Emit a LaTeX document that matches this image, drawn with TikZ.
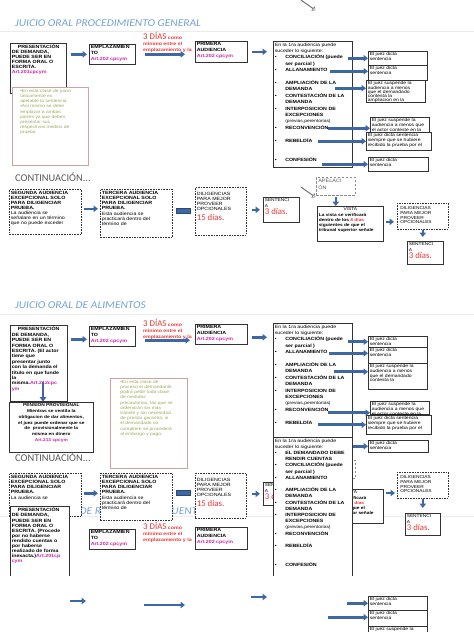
\documentclass[tikz,border=0pt]{standalone}
\usepackage{fontspec}
\setmainfont{Liberation Sans}[FakeStretch=1.15]
\newfontfamily\slidefont{Carlito}
\newfontfamily\titlefont{Carlito}[FakeStretch=1.1]
\usetikzlibrary{arrows.meta}
\usetikzlibrary{shapes.arrows}

\definecolor{titleblue}{RGB}{115,160,212}
\definecolor{arrowblue}{RGB}{62,104,164}
\definecolor{artmag}{RGB}{204,36,168}
\definecolor{diasred}{RGB}{234,54,54}
\definecolor{noteolive}{RGB}{158,168,96}
\definecolor{noterose}{RGB}{204,164,164}
\definecolor{contgray}{RGB}{88,88,88}

\newcommand{\tb}[3]{\parbox[t][#2][t]{#1}{\raggedright #3}}
\newcommand{\bul}{\makebox[10.5pt][l]{\textbullet}\bfseries}
\newcommand{\ind}{\hspace*{10.5pt}}
\newcommand{\art}[1]{{\color{artmag}#1}}
\newcommand{\dias}[1]{{\slidefont\mdseries\fontsize{8.8}{9}\selectfont\color{diasred}#1}}

\tikzset{
  box/.style={draw=black!80, line width=0.6pt, fill=white, anchor=north west,
    inner sep=1.5pt, font=\fontsize{4.6}{5.2}\selectfont\bfseries},
  headbox/.style={box, font=\fontsize{4.6}{5.8}\selectfont\bfseries},
  dbox/.style={box, dash pattern=on 1.6pt off 1pt},
  resbox/.style={box, line width=0.5pt, font=\fontsize{4.4}{4.6}\selectfont},
  listbox/.style={box, font=\fontsize{4.6}{6.4}\selectfont},
  sentbox/.style={box, font=\fontsize{4.2}{5.6}\selectfont},
  dilbox/.style={dbox, font=\fontsize{4.6}{5.3}\selectfont, inner ysep=4.5pt},
  smalldil/.style={dbox, font=\fontsize{4.2}{4.9}\selectfont, inner sep=3pt},
  apelbox/.style={box, draw=black!45, dash pattern=on 2.5pt off 1.5pt, text=black!65,
    inner sep=2pt, font=\fontsize{4.8}{6.5}\selectfont},
  note/.style={draw=noterose, line width=0.5pt, fill=white, anchor=north west,
    inner xsep=8pt, inner ysep=2pt, text=noteolive, font=\fontsize{4.3}{5.2}\selectfont},
  slidetitle/.style={anchor=west, inner sep=0pt, text=titleblue,
    font=\titlefont\itshape\fontsize{10.4}{11}\selectfont},
  cont/.style={anchor=west, inner sep=0pt, text=contgray,
    font=\slidefont\fontsize{10.4}{11}\selectfont},
  diastext/.style={anchor=north west, inner sep=0pt, align=left, text=diasred,
    font=\fontsize{4.6}{6}\selectfont\bfseries},
  barrow/.style={draw=arrowblue, line width=2.6pt, -{Triangle[length=4.5pt,width=6.5pt]}},
  bar/.style={draw=arrowblue!70!black, fill=arrowblue, line width=0.4pt, anchor=west,
    minimum width=14pt, minimum height=5pt, inner sep=0pt},
  hollow/.style={single arrow, draw=black!55, fill=white, line width=0.5pt, inner sep=0pt,
    minimum height=17pt, minimum width=4pt, single arrow head extend=2pt},
  sliderule/.style={draw=black!8, line width=0.6pt},
  sides/.style={draw=black!80, line width=0.6pt}
}

\begin{document}
\begin{tikzpicture}[x=1pt, y=-1pt]
\useasboundingbox (0,0) rectangle (474,632);

% Slide rules
\draw[sliderule] (0,31) -- (474,31);
\draw[sliderule] (0,314) -- (474,314);
\draw[sliderule] (0,516) -- (474,516);

% ---------------- Procedimiento general ----------------
\node[slidetitle] (title1) at (15,23) {JUICIO ORAL PROCEDIMIENTO GENERAL};
\node[hollow, rotate=-35] (hol1) at (308,5) {};

\node[box, font=\fontsize{4.6}{4.9}\selectfont\bfseries] (pres1) at (10,43)
  {\tb{53pt}{47pt}{\hspace*{6pt}PRESENTACIÓN\\ DE DEMANDA,\\ PUEDE SER EN\\
   FORMA ORAL O\\ ESCRITA.\\ \art{Art.201cpcym}}}; %
\node[note] (note1) at (12,87)
  {\tb{60pt}{74pt}{\textbullet En esta clase de juicio\\ únicamente es\\ apelable la sentencia\\
   \textbullet Así mismo se debe\\ emplazar a ambas\\ partes ya que deben\\ presentar sus\\
   respectivos medios de\\ prueba}}; %
\node[headbox] (emp1) at (89,44) {\tb{43pt}{17pt}{EMPLAZAMIEN\\ TO\\ \art{Art.202 cpcym}}}; %
\node[diastext] (dias1) at (143,31.5) {\dias{3 DÍAS} como\\ mínimo entre el\\ emplazamiento y la}; %
\node[headbox] (pa1) at (195,41) {\tb{49pt}{18pt}{PRIMERA\\ AUDIENCIA\\ \art{Art.202 cpcym}}}; %

\node[listbox] (big1) at (273,41)
  {\tb{76pt}{123pt}{En la 1ra audiencia puede\\ suceder lo siguiente:\\
   \bul CONCILIACIÓN (puede\\ \ind ser parcial )\\ \bul ALLANAMIENTO\\[6.4pt]
   \bul AMPLIACIÓN DE LA\\ \ind DEMANDA\\ \bul CONTESTACIÓN DE LA\\ \ind DEMANDA\\
   \bul INTERPOSICION DE\\ \ind EXCEPCIONES\\ \ind{\mdseries\fontsize{4.3}{6.4}\selectfont(previas,perentorias)}\\
   \bul RECONVENCIÓN\\[6.4pt] \bul REBELDÍA\\[12.8pt] \bul CONFESIÓN}}; %

\draw[barrow, shorten <=4pt, shorten >=2pt] (pres1.east |- emp1.west) -- (emp1.west);
\draw[barrow, shorten <=9pt, shorten >=10pt] (emp1.east) -- (emp1.east -| pa1.west);
\draw[barrow, shorten <=4pt, shorten >=6pt] (pa1.east) -- (pa1.east -| big1.west);

% Results of the first hearing
\node[resbox] (r1a) at (368,51) {\tb{56pt}{11pt}{El juez dicta\\ sentencia}}; %
\node[resbox] (r1b) at (368,65) {\tb{56pt}{12pt}{El juez dicta\\ sentencia}}; %
\node[resbox, font=\fontsize{4.4}{4.2}\selectfont] (r1c) at (366,80)
  {\tb{56pt}{19pt}{El juez suspende la\\ audiencia a menos\\ que el demandado\\ contesta la\\ ampliacion en la}}; %
\node[resbox] (r1d) at (370,117) {\tb{56pt}{12pt}{El juez suspende la\\ audiencia a menos que\\ el actor conteste en la}}; %
\node[resbox] (r1e) at (366,132) {\tb{62pt}{15pt}{El juez dicta sentencia\\ siempre que se hubiere\\ recibido la prueba por el}}; %
\node[resbox] (r1f) at (368,157) {\tb{57pt}{11pt}{El juez dicta\\ sentencia}}; %

\draw[barrow] ([xshift=-20pt]r1a.west) -- (r1a.west);
\draw[barrow] ([xshift=-38pt,yshift=1.5pt]r1b.west) -- ([yshift=1.5pt]r1b.west);
\draw[barrow] ([xshift=-31pt,yshift=3pt]r1c.west) -- ([yshift=3pt]r1c.west);
\draw[barrow] ([xshift=-42pt,yshift=-3.5pt]r1d.west) -- ([yshift=-3.5pt]r1d.west);
\draw[barrow] ([xshift=-48pt]r1e.west) -- (r1e.west);
\draw[barrow] ([xshift=-46pt]r1f.west) -- (r1f.west);

% Continuation
\node[cont] (cont1) at (15,177) {CONTINUACIÓN...};
\node[dbox, font=\fontsize{4.6}{5}\selectfont\bfseries] (seg1) at (9,189)
  {\tb{69pt}{42pt}{SEGUNDA AUDIENCIA\\ EXCEPCIONAL SOLO\\ PARA DILIGENCIAR\\ PRUEBA.\\
   \mdseries La audiencia se\\ señalare en un término\\ que no puede exceder}}; %
\node[dbox, font=\fontsize{4.6}{5.3}\selectfont\bfseries] (ter1) at (100,189)
  {\tb{69pt}{45pt}{TERCERA AUDIENCIA\\ EXCEPCIONAL SOLO\\ PARA DILIGENCIAR\\ PRUEBA.\\
   \mdseries Esta audiencia se\\ practicará dentro del\\ término de}}; %
\node[bar] (bar1) at (176,210.5) {};
\node[dilbox] (dil1) at (195,187)
  {\tb{48pt}{39pt}{DILIGENCIAS\\ PARA MEJOR\\ PROVEER\\ OPCIONALES\\[2pt] \dias{15 días.}}}; %
\node[sentbox] (sent1) at (263,197) {\tb{33pt}{22pt}{SENTENCI\\ A\\ \dias{3 días.}}}; %

\draw[barrow, shorten <=2pt, shorten >=2pt] ([yshift=3pt]seg1.east) -- ([yshift=3pt]seg1.east -| ter1.west);
\draw[barrow, shorten <=5pt, shorten >=3pt] (dil1.east |- sent1.west) -- (sent1.west);

% Appeal
\node[hollow, rotate=-35] (hol2) at (308,192) {};
\node[apelbox] (apel1) at (316,177) {\tb{35pt}{14pt}{APELACI\\ ÓN}}; %
\node[box, font=\fontsize{4.2}{5.3}\selectfont\bfseries] (vista1) at (317,206)
  {\tb{63pt}{32pt}{{\centering\mdseries VISTA\par}La vista se verificará\\
   dentro de los \textcolor{diasred}{8 días}\\ siguientes de que el\\ tribunal superior señale}}; %
\node[smalldil] (dil2) at (397,203) {\tb{45pt}{20pt}{DILIGENCIAS\\ PARA MEJOR\\ PROVEER\\ OPCIONALES}}; %
\node[sentbox] (sent2) at (407,241) {\tb{33pt}{20pt}{SENTENCI\\ A\\ \dias{3 días.}}}; %

\draw[barrow, line width=2pt, shorten <=1pt] (apel1.south) -- (apel1.south |- vista1.north);
\draw[barrow, shorten <=2pt, shorten >=3pt] ([yshift=2pt]vista1.east) -- ([yshift=2pt]vista1.east -| dil2.west);
\draw[barrow, line width=2pt, shorten >=4pt] (dil2.south) -- (dil2.south |- sent2.north);

% ---------------- Alimentos ----------------
\node[slidetitle] (title2) at (15,305) {JUICIO ORAL DE ALIMENTOS};

\node[box, font=\fontsize{4.6}{5.4}\selectfont\bfseries] (pres2) at (10,325)
  {\tb{54pt}{73pt}{\hspace*{6pt}PRESENTACIÓN\\ DE DEMANDA,\\ PUEDE SER EN\\ FORMA ORAL O\\
   ESCRITA. (El actor\\ tiene que\\ presentar junto\\ con la demanda el\\ título en que funde\\
   la\\ misma.\art{Art.212cpc}\\ \art{ym}}}; %
\node[box, font=\fontsize{4.2}{5.8}\selectfont\bfseries] (pension) at (9,402)
  {\tb{81pt}{47pt}{\centering PENSION PROVISIONAL\\ Mientras se ventila la\\ obligacion de dar alimentos,\\
   el juez puede ordenar que se\\ de\ \ provisionalmente la\\ misma en dinero\\ \art{Art.213 cpcym}}}; %
\draw[barrow] ([xshift=33pt,yshift=20pt]pres2.south west) -- ([xshift=33pt]pres2.south west);

\node[note, inner xsep=10pt] (note2) at (110,378)
  {\tb{57pt}{86pt}{\textbullet En esta clase de\\ proceso el demandante\\ podrá pedir toda clase\\
   de medidas\\ precautorias, las que se\\ ordenarán sin más\\ trámite y sin necesidad\\
   de prestar garantía, si\\ el demandado no\\ cumpliere se procederá\\ al embargo y pago.}}; %

\node[headbox] (emp2) at (89,326) {\tb{43pt}{17pt}{EMPLAZAMIEN\\ TO\\ \art{Art.202 cpcym}}}; %
\node[diastext] (dias2) at (143,318.5) {\dias{3 DÍAS} como\\ mínimo entre el\\ emplazamiento y la}; %
\node[headbox] (pa2) at (195,324) {\tb{49pt}{17pt}{PRIMERA\\ AUDIENCIA\\ \art{Art.202 cpcym}}}; %

\node[listbox] (big2) at (273,323)
  {\tb{76pt}{111pt}{En la 1ra audiencia puede\\ suceder lo siguiente:\\
   \bul CONCILIACIÓN (puede\\ \ind ser parcial )\\ \bul ALLANAMIENTO\\[6.4pt]
   \bul AMPLIACIÓN DE LA\\ \ind DEMANDA\\ \bul CONTESTACIÓN DE LA\\ \ind DEMANDA\\
   \bul INTERPOSICION DE\\ \ind EXCEPCIONES\\ \ind{\mdseries\fontsize{4.3}{6.4}\selectfont(previas,perentorias)}\\
   \bul RECONVENCIÓN\\[6.4pt] \bul REBELDÍA}}; %

\draw[barrow, shorten <=3pt, shorten >=2pt] ([yshift=-3pt]emp2.west -| pres2.east) -- ([yshift=-3pt]emp2.west);
\draw[barrow, shorten <=9pt, shorten >=5pt] ([yshift=-4pt]emp2.east) -- ([yshift=-4pt]emp2.east -| pa2.west);
\draw[barrow, shorten <=4pt, shorten >=6pt] ([yshift=-3pt]pa2.east) -- ([yshift=-3pt]pa2.east -| big2.west);

\node[resbox] (r2a) at (368,336) {\tb{56pt}{8pt}{El juez dicta\\ sentencia}}; %
\node[resbox] (r2b) at (368,347) {\tb{56pt}{13pt}{El juez dicta\\ sentencia}}; %
\node[resbox] (r2c) at (368,363) {\tb{56pt}{23pt}{El juez suspende la\\ audiencia a menos\\ que el demandado\\ contesta la}}; %
\node[resbox] (r2d) at (370,401) {\tb{56pt}{10pt}{El juez suspende la\\ audiencia a menos que\\ el actor conteste en la}}; %
\node[resbox] (r2e) at (366,415) {\tb{62pt}{16pt}{El juez dicta sentencia\\ siempre que se hubiere\\ recibido la prueba por el}}; %
\node[resbox] (r2f) at (368,440) {\tb{57pt}{9pt}{El juez dicta\\ sentencia}}; %

\draw[barrow] ([xshift=-20pt]r2a.west) -- (r2a.west);
\draw[barrow] ([xshift=-39pt,yshift=2pt]r2b.west) -- ([yshift=2pt]r2b.west);
\draw[barrow] ([xshift=-34pt,yshift=4.5pt]r2c.west) -- ([yshift=4.5pt]r2c.west);
\draw[barrow] ([xshift=-42pt,yshift=-5pt]r2d.west) -- ([yshift=-5pt]r2d.west);
\draw[barrow] ([xshift=-48pt]r2e.west) -- (r2e.west);
\draw[barrow] ([xshift=-46pt]r2f.west) -- (r2f.west);

% appeal branch, partly hidden
\node[apelbox] (apel2) at (316,460) {\tb{35pt}{14pt}{APELACI\\ ÓN}}; %
\node[sentbox] (sentl2) at (263,482) {\tb{33pt}{20pt}{SENTENCI\\ A\\ \dias{3 días.}}}; %
\node[box, font=\fontsize{4.2}{5.3}\selectfont\bfseries] (vista2) at (317,489)
  {\tb{63pt}{31pt}{{\centering\mdseries VISTA\par}La vista se verificará\\
   dentro de los \textcolor{diasred}{8 días}\\ siguientes de que el\\ tribunal superior señale}}; %
\node[smalldil] (dil3) at (397,472) {\tb{45pt}{20pt}{DILIGENCIAS\\ PARA MEJOR\\ PROVEER\\ OPCIONALES}}; %
\node[sentbox] (sent3) at (405,513) {\tb{32pt}{19pt}{SENTENCI\\ A\\ \dias{3 días.}}}; %

\draw[barrow, shorten <=2pt, shorten >=2pt] ([yshift=-4pt]vista2.north east) -- ([yshift=-4pt]vista2.north east -| dil3.west);
\draw[barrow, line width=2pt, shorten >=5pt] (dil3.south) -- (dil3.south |- sent3.north);

\node[listbox, draw=none] (big3) at (273,437)
  {\tb{76pt}{135pt}{\fontsize{4.6}{6.2}\selectfont En la 1ra audiencia puede\\ suceder lo siguiente:\\
   \bul EL DEMANDADO DEBE\\ \ind RENDIR CUENTAS\\
   \bul CONCILIACIÓN (puede\\ \ind ser parcial )\\ \bul ALLANAMIENTO\\[6.2pt]
   \bul AMPLIACIÓN DE LA\\ \ind DEMANDA\\ \bul CONTESTACIÓN DE LA\\ \ind DEMANDA\\
   \bul INTERPOSICION DE\\ \ind EXCEPCIONES\\ \ind{\mdseries\fontsize{4.3}{6.2}\selectfont(previas,perentorias)}\\
   \bul RECONVENCIÓN\\[6.2pt] \bul REBELDÍA\\[12.4pt] \bul CONFESIÓN}}; %
\draw[sides] (big3.south west) -- (big3.north west) -- (big3.north east) -- (big3.south east);

% Continuation
\node[cont] (cont2) at (15,457) {CONTINUACIÓN...};
\node[slidetitle] (title3) at (19,510) {JUICIO ORAL DE RENDICIÓN DE CUENTAS};
\node[dbox, font=\fontsize{4.6}{5.3}\selectfont\bfseries] (seg2) at (9,473)
  {\tb{69pt}{40pt}{SEGUNDA AUDIENCIA\\ EXCEPCIONAL SOLO\\ PARA DILIGENCIAR\\ PRUEBA.\\
   \mdseries La audiencia se}}; %
\node[dbox, font=\fontsize{4.6}{5.3}\selectfont\bfseries] (ter2) at (100,473)
  {\tb{69pt}{44pt}{TERCERA AUDIENCIA\\ EXCEPCIONAL SOLO\\ PARA DILIGENCIAR\\ PRUEBA.\\
   \mdseries Esta audiencia se\\ practicará dentro del\\ término de}}; %
\node[bar] (bar2) at (176,493) {};
\node[dilbox] (dil4) at (195,473)
  {\tb{48pt}{36pt}{DILIGENCIAS\\ PARA MEJOR\\ PROVEER\\ OPCIONALES\\[2pt] \dias{15 días.}}}; %

\draw[barrow, shorten <=2pt, shorten >=2pt] ([yshift=1.5pt]seg2.east) -- ([yshift=1.5pt]seg2.east -| ter2.west);
\draw[barrow, shorten <=5pt, shorten >=3pt] (dil4.east |- sentl2.west) -- (sentl2.west);

% ---------------- Rendicion de cuentas ----------------
\node[box, draw=none, font=\fontsize{4.6}{5.1}\selectfont\bfseries] (pres3) at (10,506)
  {\tb{56pt}{66pt}{\hspace*{6pt}PRESENTACIÓN\\ DE DEMANDA,\\ PUEDE SER EN\\ FORMA ORAL O\\
   ESCRITA. (Procede\\ por no haberse\\ rendido cuentas o\\ por haberse\\ realizado de forma\\
   inexacta.)\art{Art.201cp}\\ \art{cym}}}; %
\draw[sides] (pres3.south west) -- (pres3.north west) -- (pres3.north east) -- (pres3.south east);
\node[headbox] (emp3) at (89,529) {\tb{43pt}{17pt}{EMPLAZAMIEN\\ TO\\ \art{Art.202 cpcym}}}; %
\node[diastext] (dias3) at (143,521.5) {\dias{3 DÍAS} como\\ mínimo entre el\\ emplazamiento y la}; %
\node[headbox] (pa3) at (195,527) {\tb{49pt}{19pt}{PRIMERA\\ AUDIENCIA\\ \art{Art.202 cpcym}}}; %

\coordinate (f1s) at (70,601);  \coordinate (f1e) at (86,601);
\coordinate (f2s) at (144,605); \coordinate (f2e) at (185,605);
\coordinate (f3s) at (251,597); \coordinate (f3e) at (267,597);
\draw[barrow] (f1s) -- (f1e);
\draw[barrow] (f2s) -- (f2e);
\draw[barrow] (f3s) -- (f3e);

\node[resbox] (r3a) at (368,596) {\tb{56pt}{11pt}{El juez dicta\\ sentencia}}; %
\node[resbox] (r3b) at (368,610) {\tb{56pt}{13pt}{El juez dicta\\ sentencia}}; %
\node[resbox] (r3c) at (368,626) {\tb{56pt}{5pt}{El juez suspende la}}; %
\draw[barrow] ([xshift=-21pt]r3a.west) -- (r3a.west);
\draw[barrow] ([xshift=-40pt,yshift=1pt]r3b.west) -- ([yshift=1pt]r3b.west);

\end{tikzpicture}
\end{document}
